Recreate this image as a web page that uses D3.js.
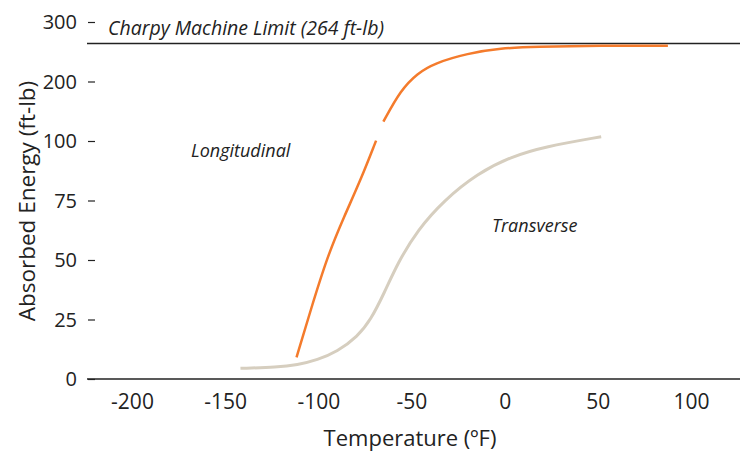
<!DOCTYPE html>
<html lang="en">
<head>
  <meta charset="utf-8">
  <title>Charpy Impact Energy</title>
  <script src="https://d3js.org/d3.v7.min.js"></script>
  <style>
    body { margin: 0; background: #fff; }
    svg text { font-family: "Open Sans", "Noto Sans", sans-serif; fill: #222; }
    .axis path, .axis line { stroke: #222; }
  </style>
</head>
<body>
<svg width="745" height="453"></svg>
<script>
  // data
  var xTicks = [-200, -150, -100, -50, 0, 50, 100];
  var yTicks = [0, 25, 50, 75, 100, 200, 300];
  var machineLimit = 264;

  var longLowTemp = [-111.7, -104.1, -95.2, -86.2, -77.3, -69.0];
  var longLowEnergy = [9.1, 29.0, 51.4, 68.2, 83.6, 100.7];

  var longHighTemp = [-65.1, -55.8, -46.8, -37.8, -19.9, -2.0, 16.0, 51.8, 87.6];
  var longHighEnergy = [132.4, 185.7, 213.8, 230.6, 247.4, 255.8, 258.5, 260.2, 260.2];

  var transTemp = [-141.8, -122.0, -111.3, -100.5, -89.8, -79.0, -71.9, -64.7, -57.5, -46.8, -32.4, -14.5, 3.4, 21.3, 51.8];
  var transEnergy = [4.5, 4.9, 5.9, 8.0, 11.5, 17.8, 24.8, 36.0, 48.6, 62.6, 75.2, 86.4, 93.4, 97.6, 107.2];

  var svg = d3.select("svg");

  var x = d3.scaleLinear().domain([-200, 100]).range([132, 691]);
  // broken axis: 0-100 stretched, 100-300 compressed
  var y = d3.scaleLinear().domain([0, 100, 300]).range([379, 141, 22]);

  function zip(a, b) { return a.map(function(d, i) { return [d, b[i]]; }); }

  var line = d3.line()
      .x(function(d) { return x(d[0]); })
      .y(function(d) { return y(d[1]); })
      .curve(d3.curveBasis);

  // x axis
  var xAxis = svg.append("g")
      .attr("class", "axis")
      .attr("transform", "translate(0,379)")
      .call(d3.axisBottom(x).tickValues(xTicks).tickSize(0).tickPadding(15)
        .tickFormat(function(d) { return String(d); }));
  xAxis.select(".domain").remove();
  xAxis.selectAll("text").style("font-size", "21px");

  svg.append("line")
      .attr("x1", 87).attr("x2", 740)
      .attr("y1", 379).attr("y2", 379)
      .attr("stroke", "#222").attr("stroke-width", 1.5);

  // y axis
  var yAxis = svg.append("g")
      .attr("class", "axis")
      .attr("transform", "translate(95,0)")
      .call(d3.axisLeft(y).tickValues(yTicks).tickSize(7).tickPadding(11));
  yAxis.select(".domain").remove();
  yAxis.selectAll("text").style("font-size", "20px").attr("dy", "0.34em");
  yAxis.selectAll("line").attr("stroke-width", 1.2);

  // machine limit
  svg.append("line")
      .attr("x1", 87).attr("x2", 740)
      .attr("y1", y(machineLimit)).attr("y2", y(machineLimit))
      .attr("stroke", "#222").attr("stroke-width", 1.5);

  svg.append("text")
      .attr("x", 108).attr("y", 35)
      .style("font-size", "19.5px")
      .style("font-style", "italic")
      .text("Charpy Machine Limit (264 ft-lb)");

  // curves
  svg.append("path")
      .datum(zip(transTemp, transEnergy))
      .attr("d", line)
      .attr("fill", "none")
      .attr("stroke", "#d6cebf")
      .attr("stroke-width", 3);

  svg.append("path")
      .datum(zip(longLowTemp, longLowEnergy))
      .attr("d", line)
      .attr("fill", "none")
      .attr("stroke", "#f47b2c")
      .attr("stroke-width", 2.5);

  svg.append("path")
      .datum(zip(longHighTemp, longHighEnergy))
      .attr("d", line)
      .attr("fill", "none")
      .attr("stroke", "#f47b2c")
      .attr("stroke-width", 2.5);

  // series labels
  svg.append("text")
      .attr("x", 191).attr("y", 157)
      .style("font-size", "18px").style("font-style", "italic")
      .text("Longitudinal");

  svg.append("text")
      .attr("x", 492).attr("y", 232)
      .style("font-size", "18px").style("font-style", "italic")
      .text("Transverse");

  // axis titles
  svg.append("text")
      .attr("x", 410).attr("y", 446)
      .attr("text-anchor", "middle")
      .style("font-size", "22px")
      .text("Temperature (ºF)");

  svg.append("text")
      .attr("transform", "translate(35,201) rotate(-90)")
      .attr("text-anchor", "middle")
      .style("font-size", "22.5px")
      .text("Absorbed Energy (ft-lb)");
</script>
</body>
</html>
